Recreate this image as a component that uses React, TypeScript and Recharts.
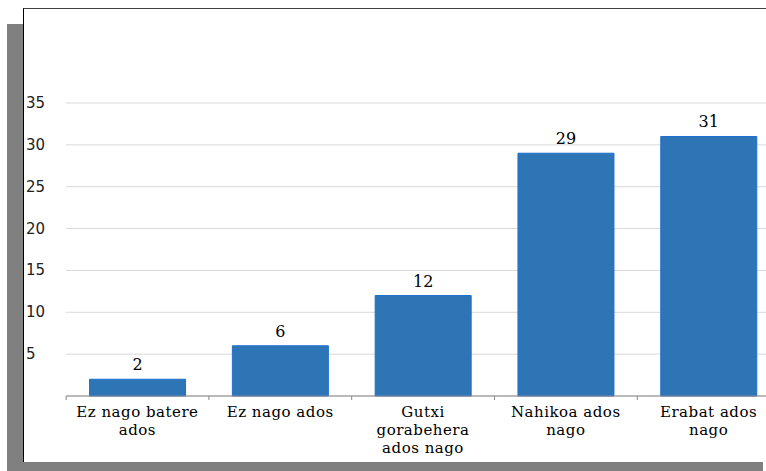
import { BarChart, Bar, XAxis, YAxis, CartesianGrid, LabelList } from "recharts";

const categories = [
  "Ez nago batere\nados",
  "Ez nago ados",
  "Gutxi\ngorabehera\nados nago",
  "Nahikoa ados\nnago",
  "Erabat ados\nnago",
];
const values = [2, 6, 12, 29, 31];
const yTicks = [0, 5, 10, 15, 20, 25, 30, 35];

const data = categories.map((name, i) => ({ name, value: values[i] }));

const BAND = 142.6;
const SERIF = "'DejaVu Serif', serif";

function CategoryTick(props: any) {
  const { x, y, payload } = props;
  const lines = String(payload.value).split("\n");
  return (
    <g>
      <line x1={x - BAND / 2} x2={x - BAND / 2} y1={y - 8} y2={y - 4} stroke="#888" />
      <text
        x={x}
        y={y + 13}
        textAnchor="middle"
        fontFamily={SERIF}
        fontSize={15}
        letterSpacing={0.5}
        fill="#000"
      >
        {lines.map((l, i) => (
          <tspan key={i} x={x} dy={i === 0 ? 0 : 18}>
            {l}
          </tspan>
        ))}
      </text>
    </g>
  );
}

function ValueTick(props: any) {
  const { y, payload } = props;
  if (payload.value === 0) return null;
  return (
    <text x={2} y={y + 5} textAnchor="start" fontFamily="'DejaVu Sans', sans-serif" fontSize={15} fill="#222">
      {payload.value}
    </text>
  );
}

export default function App() {
  return (
    <div style={{ position: "fixed", left: 0, top: 0, width: 766, height: 471, overflow: "hidden", background: "#fff" }}>
      <div style={{ position: "absolute", left: 7, top: 24, width: 756, height: 447, background: "#808080" }} />
      <div
        style={{
          position: "absolute",
          left: 23,
          top: 8,
          width: 800,
          height: 454,
          background: "#fff",
          borderTop: "1px solid #404040",
          borderLeft: "1px solid #000",
          boxSizing: "border-box",
        }}
      >
        <BarChart
          width={800}
          height={452}
          data={data}
          margin={{ top: 94, right: 44, bottom: 0, left: 0 }}
          barCategoryGap="16.5%"
        >
          <CartesianGrid vertical={false} stroke="#d9d9d9" />
          <XAxis
            dataKey="name"
            interval={0}
            height={65}
            axisLine={{ stroke: "#888" }}
            tickLine={false}
            tick={<CategoryTick />}
          />
          <YAxis
            domain={[0, 35]}
            ticks={yTicks}
            width={42}
            axisLine={false}
            tickLine={false}
            tick={<ValueTick />}
          />
          <Bar dataKey="value" fill="#2E75B6" stroke="#1E6FD0" strokeWidth={1} isAnimationActive={false}>
            <LabelList dataKey="value" position="top" offset={9} fontFamily={SERIF} fontSize={16} fill="#000" />
          </Bar>
        </BarChart>
      </div>
    </div>
  );
}
